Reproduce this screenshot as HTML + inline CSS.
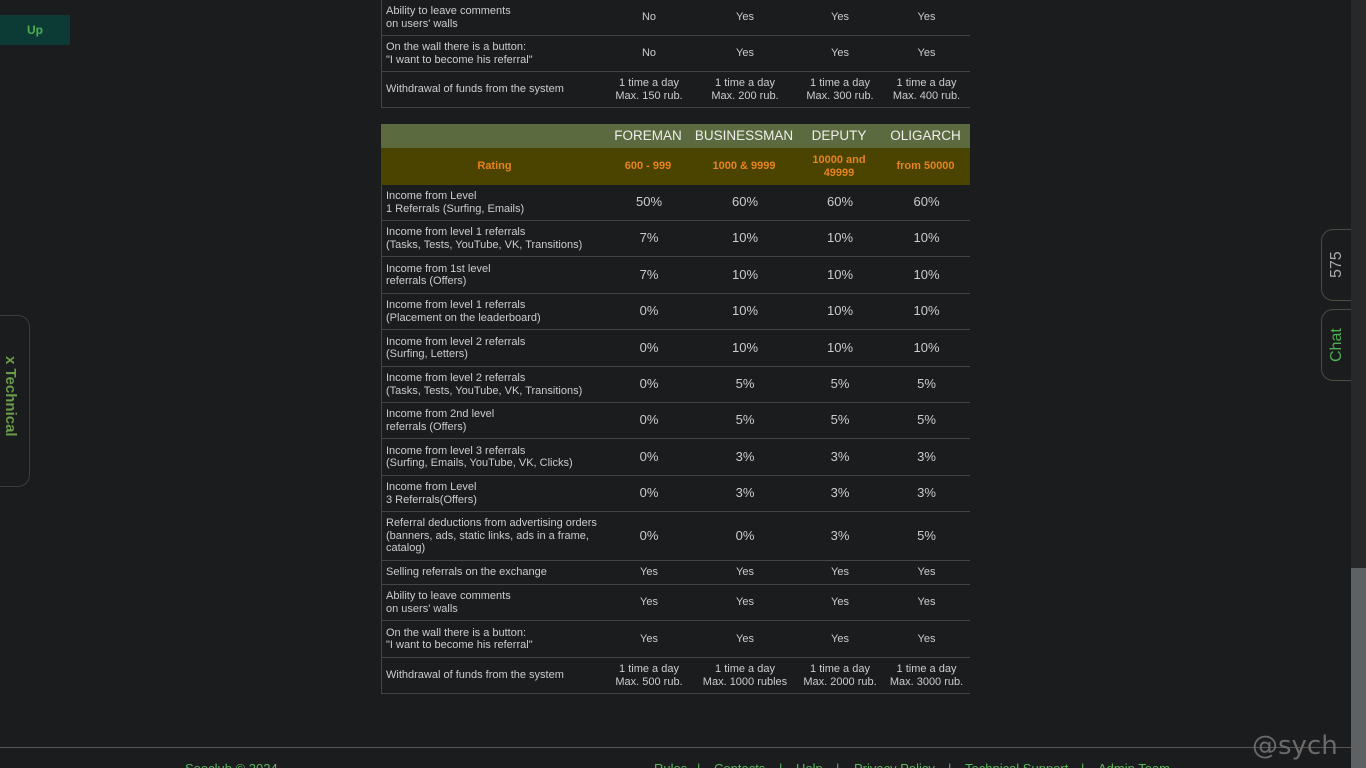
<!DOCTYPE html>
<html style="overflow:hidden;height:768px"><head><meta charset="utf-8"><style>
body{margin:0;width:1366px;height:768px;overflow:hidden;background:#1b1c1e;font-family:"Liberation Sans",Arial,sans-serif;position:relative}
.abs{position:absolute}
.row{position:absolute;left:381px;width:589px;border-bottom:1px solid #444;border-left:1px solid #444;box-sizing:border-box;display:flex;align-items:center}
.row div{height:100%;display:flex;align-items:center;justify-content:center;text-align:center;color:#ccc;font-size:11px;line-height:12.5px}
.row .lab{justify-content:flex-start;text-align:left;padding-left:4px;box-sizing:border-box}
.c0{width:223px}.c1{width:88px}.c2{width:104px}.c3{width:86px}.c4{width:87px}
.big div.v{font-size:13px}
.fl{position:absolute;top:761px;color:#5cb85c;font-size:13px;white-space:nowrap}
</style></head><body>
<div class="abs" style="left:0;top:15px;width:70px;height:30px;background:#0c3a34;color:#4caf50;font-size:12px;font-weight:bold;display:flex;align-items:center;justify-content:center">Up</div>
<div class="abs" style="left:-10px;top:315px;width:40px;height:172px;border:1px solid #3c3d3a;border-radius:0 12px 12px 0;box-sizing:border-box"></div>
<div class="abs" style="left:0;top:356px;width:20px;height:100px;writing-mode:vertical-rl;color:#6a9a4a;font-size:15px;font-weight:bold;line-height:20px">x Technical</div>
<div class="abs" style="left:1321px;top:229px;width:40px;height:72px;border:1px solid #4a4b42;border-radius:12px 0 0 12px;box-sizing:border-box"></div>
<div class="abs" style="left:1326px;top:248px;width:22px;height:34px;writing-mode:vertical-rl;transform:rotate(180deg);color:#aaa;font-size:16px;line-height:22px;text-align:center">575</div>
<div class="abs" style="left:1321px;top:309px;width:40px;height:72px;border:1px solid #4a4b42;border-radius:12px 0 0 12px;box-sizing:border-box"></div>
<div class="abs" style="left:1326px;top:322px;width:22px;height:46px;writing-mode:vertical-rl;transform:rotate(180deg);color:#4caf50;font-size:16px;line-height:22px;text-align:center">Chat</div>
<div class="abs" style="left:1351px;top:0;width:15px;height:768px;background:#262829"></div>
<div class="abs" style="left:1351px;top:568px;width:15px;height:200px;background:#5d6164"></div>
<div class="abs" style="left:0;top:747px;width:1351px;height:1px;background:#555"></div>
<div class="abs" style="left:1252px;top:731px;color:#6a6a6a;font-size:26px;font-family:'DejaVu Sans',sans-serif">@sych</div>
<div class="abs" style="left:185px;top:761px;color:#5cb85c;font-size:13px">Seoclub © 2024</div>
<div>
<span class="fl" style="left:654px">Rules</span>
<span class="fl" style="left:697px">|</span>
<span class="fl" style="left:714px">Contacts</span>
<span class="fl" style="left:779px">|</span>
<span class="fl" style="left:796px">Help</span>
<span class="fl" style="left:836px">|</span>
<span class="fl" style="left:854px">Privacy Policy</span>
<span class="fl" style="left:948px">|</span>
<span class="fl" style="left:965px">Technical Support</span>
<span class="fl" style="left:1081px">|</span>
<span class="fl" style="left:1098px">Admin Team</span>
</div>
<div id="t"></div>
<script>
const topLabels=["Ability to leave comments<br>on users' walls","On the wall there is a button:<br>\"I want to become his referral\"","Withdrawal of funds from the system"];
const topVals=[["No","Yes","Yes","Yes"],["No","Yes","Yes","Yes"],["1 time a day<br>Max. 150 rub.","1 time a day<br>Max. 200 rub.","1 time a day<br>Max. 300 rub.","1 time a day<br>Max. 400 rub."]];
const topBounds=[-1,35,71,107];
const levels=["FOREMAN","BUSINESSMAN","DEPUTY","OLIGARCH"];
const ratings=["600 - 999","1000 &amp; 9999","10000 and<br>49999","from 50000"];
const labels=["Income from Level<br>1 Referrals (Surfing, Emails)","Income from level 1 referrals<br>(Tasks, Tests, YouTube, VK, Transitions)","Income from 1st level<br>referrals (Offers)","Income from level 1 referrals<br>(Placement on the leaderboard)","Income from level 2 referrals<br>(Surfing, Letters)","Income from level 2 referrals<br>(Tasks, Tests, YouTube, VK, Transitions)","Income from 2nd level<br>referrals (Offers)","Income from level 3 referrals<br>(Surfing, Emails, YouTube, VK, Clicks)","Income from Level<br>3 Referrals(Offers)","Referral deductions from advertising orders<br>(banners, ads, static links, ads in a frame,<br>catalog)","Selling referrals on the exchange","Ability to leave comments<br>on users' walls","On the wall there is a button:<br>\"I want to become his referral\"","Withdrawal of funds from the system"];
const vals=[["50%","60%","60%","60%"],["7%","10%","10%","10%"],["7%","10%","10%","10%"],["0%","10%","10%","10%"],["0%","10%","10%","10%"],["0%","5%","5%","5%"],["0%","5%","5%","5%"],["0%","3%","3%","3%"],["0%","3%","3%","3%"],["0%","0%","3%","5%"],["Yes","Yes","Yes","Yes"],["Yes","Yes","Yes","Yes"],["Yes","Yes","Yes","Yes"],["1 time a day<br>Max. 500 rub.","1 time a day<br>Max. 1000 rubles","1 time a day<br>Max. 2000 rub.","1 time a day<br>Max. 3000 rub."]];
const bounds=[184,220,256,293,329,366,402,438,475,511,560,584,620,657,693];
const T=document.getElementById('t');
function mkRow(top,h,lab,vs,big){
  const r=document.createElement('div');
  
  
  r.className='row'+(big?' big':'');r.style.top=(top+1)+'px';r.style.height=(h+1)+'px';
  let html='<div class="lab c0">'+lab+'</div>';
  vs.forEach((v,i)=>{html+='<div class="v c'+(i+1)+'">'+v+'</div>';});
  r.innerHTML=html;T.appendChild(r);return r;
}
topLabels.forEach((l,i)=>mkRow(topBounds[i],topBounds[i+1]-topBounds[i]-1,l,topVals[i],false));
const h=mkRow(123,23,'',levels,false);

h.style.background='#5b6b3f';h.style.borderBottom='none';h.style.borderLeft='none';
h.querySelectorAll('div').forEach(d=>{d.style.color='#eee';d.style.fontSize='13.5px';});
const rr=mkRow(147,36,'Rating',ratings,false);

rr.style.background='#4a4400';rr.style.borderBottom='none';rr.style.borderLeft='none';
rr.querySelectorAll('div').forEach(d=>{d.style.color='#e8821e';d.style.fontWeight='bold';d.style.fontSize='11px';});
rr.firstChild.style.justifyContent='center';
labels.forEach((l,i)=>{const big=vals[i][0].indexOf('%')>=0;mkRow(bounds[i],bounds[i+1]-bounds[i]-1,l,vals[i],big);});
</script>
</body></html>
